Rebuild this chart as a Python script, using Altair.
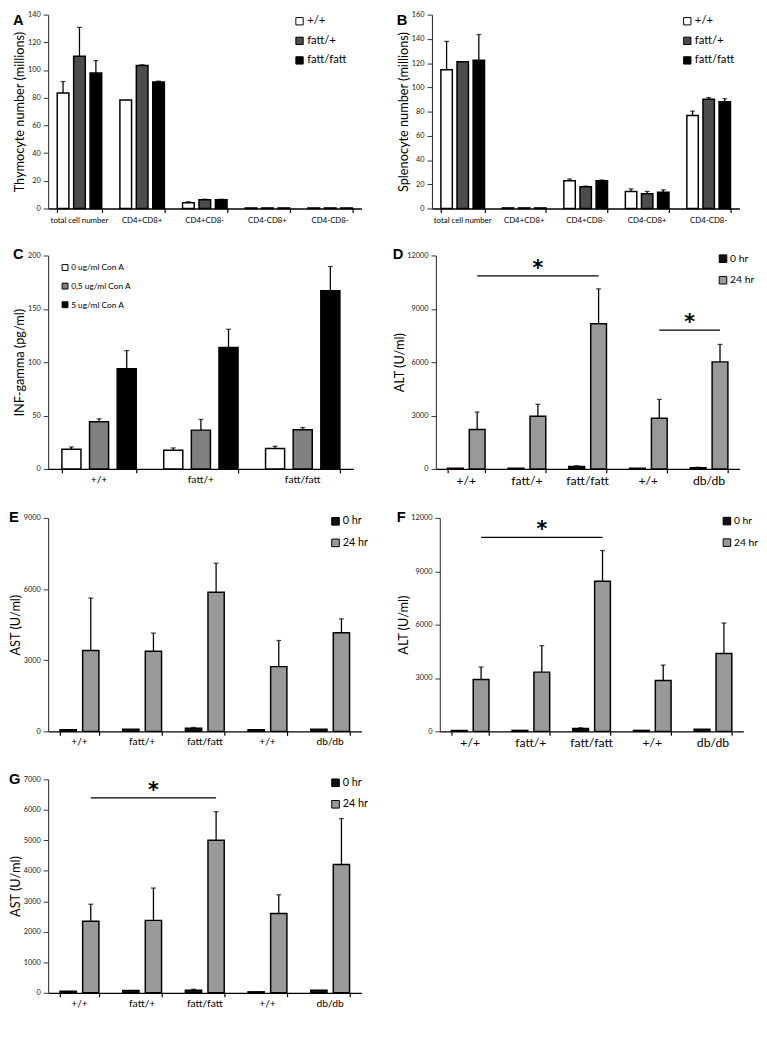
import altair as alt
import pandas as pd

FONT = "Lato"
LETTER_FONT = "Liberation Sans"

# ---------------- data ----------------
cell_types = ["total cell number", "CD4+CD8+", "CD4+CD8-", "CD4-CD8+", "CD4-CD8-"]
genotypes = ["+/+", "fatt/+", "fatt/fatt"]
genotype_colors = ["#ffffff", "#4d4d4d", "#000000"]

# A: thymocytes (millions)
thymo_wt = [83.4, 78.3, 4.2, 0.4, 0.4]
thymo_wt_err = [8.3, 0.0, 0.7, 0.0, 0.0]
thymo_het = [110.0, 103.3, 6.3, 0.4, 0.4]
thymo_het_err = [20.8, 0.5, 0.4, 0.0, 0.0]
thymo_hom = [97.8, 91.3, 6.3, 0.4, 0.4]
thymo_hom_err = [9.0, 0.7, 0.4, 0.0, 0.0]

# B: splenocytes (millions)
spleno_wt = [114.5, 0.5, 22.9, 14.1, 76.8]
spleno_wt_err = [23.4, 0.0, 1.5, 2.1, 3.6]
spleno_het = [121.2, 0.5, 18.0, 12.1, 90.1]
spleno_het_err = [0.0, 0.0, 0.5, 2.0, 1.5]
spleno_hom = [122.3, 0.5, 22.9, 13.4, 88.1]
spleno_hom_err = [21.3, 0.0, 0.6, 2.0, 2.6]

# C: INF-gamma (pg/ml)
c_groups = ["+/+", "fatt/+", "fatt/fatt"]
con_a = ["0 ug/ml Con A", "0,5 ug/ml Con A", "5 ug/ml Con A"]
con_a_colors = ["#ffffff", "#808080", "#000000"]
ifn_0 = [18.5, 17.6, 19.1]
ifn_0_err = [2.1, 2.1, 2.1]
ifn_05 = [44.2, 36.4, 36.7]
ifn_05_err = [2.8, 10.0, 2.1]
ifn_5 = [93.9, 113.9, 167.0]
ifn_5_err = [17.0, 17.0, 22.7]

# D-G: liver enzymes
mice = ["+/+", "fatt/+", "fatt/fatt", "+/+ ", "db/db"]
times = ["0 hr", "24 hr"]
time_colors = ["#111111", "#999999"]

alt_d_0 = [40, 40, 145, 40, 70]
alt_d_0_err = [0, 0, 35, 0, 30]
alt_d_24 = [2220, 2965, 8165, 2855, 6020]
alt_d_24_err = [980, 670, 1960, 1055, 980]
sig_d_from = ["+/+", "+/+ "]
sig_d_to = ["fatt/fatt", "db/db"]
sig_d_level = [10850, 7800]

ast_e_0 = [68, 95, 136, 68, 95]
ast_e_0_err = [0, 0, 28, 0, 0]
ast_e_24 = [3410, 3380, 5865, 2730, 4160]
ast_e_24_err = [2210, 765, 1225, 1100, 585]

alt_f_0 = [55, 55, 164, 55, 127]
alt_f_0_err = [0, 0, 36, 0, 0]
alt_f_24 = [2910, 3330, 8435, 2855, 4380]
alt_f_24_err = [710, 1490, 1730, 870, 1710]
sig_f_from = ["+/+"]
sig_f_to = ["fatt/fatt"]
sig_f_level = [10910]

ast_g_0 = [53, 74, 85, 32, 85]
ast_g_0_err = [0, 0, 32, 0, 0]
ast_g_24 = [2345, 2375, 5005, 2600, 4210]
ast_g_24_err = [560, 1060, 935, 615, 1505]
sig_g_from = ["+/+"]
sig_g_to = ["fatt/fatt"]
sig_g_level = [6395]


def long_df(cats, groups, values, errors):
    rows = []
    for g, vals, errs in zip(groups, values, errors):
        for c, v, e in zip(cats, vals, errs):
            rows.append({"cat": c, "grp": g, "val": v, "err": e})
    return pd.DataFrame(rows)


TITLE_BOX = 15


def panel(df, cats, groups, colors, ymax, ystep, ytitle, letter, width, height,
          pad_x, pad_o, y_extent, x_label_size, x_label_pad, leg, letter_dy,
          sig=None):
    x_scale = alt.Scale(domain=cats, paddingInner=pad_x, paddingOuter=pad_x / 2)
    x_axis = alt.Axis(title=None, labels=False, tickBand="extent",
                      tickSize=4, tickColor="black", tickWidth=1.2,
                      domainColor="black", domainWidth=1.3)
    y_scale = alt.Scale(domain=[0, ymax], nice=False, zero=True)
    y_axis = alt.Axis(title=ytitle, values=list(range(0, ymax + 1, ystep)),
                      format="d", grid=False, tickSize=5, tickColor="#333333",
                      domainColor="#333333", domainWidth=1.1,
                      labelFontSize=7.5, labelFont=FONT, labelColor="#222222",
                      labelPadding=3, titleFont=FONT, titleFontSize=13,
                      titleFontWeight="normal", titleColor="black",
                      titlePadding=2, minExtent=y_extent, maxExtent=y_extent)
    xo = alt.XOffset("grp:N", scale=alt.Scale(domain=groups, paddingInner=pad_o,
                                              paddingOuter=0))
    base = alt.Chart(df)
    bars = base.mark_bar(stroke="black", strokeWidth=1.5).encode(
        x=alt.X("cat:N", scale=x_scale, axis=x_axis),
        xOffset=xo,
        y=alt.Y("val:Q", scale=y_scale, axis=y_axis),
        fill=alt.Fill("grp:N", scale=alt.Scale(domain=groups, range=colors),
                      legend=alt.Legend(orient="none", legendX=leg["x"],
                                        legendY=leg["y"], title=None,
                                        symbolType="square",
                                        symbolSize=leg["sym"],
                                        symbolStrokeColor="black",
                                        symbolStrokeWidth=1,
                                        labelFontSize=leg["font"],
                                        labelFont=FONT, labelColor="black",
                                        rowPadding=leg["row"], labelOffset=2,
                                        padding=0)),
    )
    errs = base.transform_filter("datum.err > 0").transform_calculate(
        top="datum.val + datum.err")
    rule = errs.mark_rule(color="black", strokeWidth=1.3).encode(
        x=alt.X("cat:N", scale=x_scale, axis=x_axis),
        xOffset=xo,
        y=alt.Y("val:Q", scale=y_scale, axis=y_axis),
        y2="top:Q",
    )
    cap = errs.mark_tick(color="black", thickness=1.3, size=5).encode(
        x=alt.X("cat:N", scale=x_scale, axis=x_axis),
        xOffset=xo,
        y=alt.Y("top:Q", scale=y_scale, axis=y_axis),
    )
    # category labels under the x axis
    cat_df = pd.DataFrame({"cat": cats, "lbl": [c.strip() for c in cats]})
    cat_text = alt.Chart(cat_df).mark_text(
        font=FONT, fontSize=x_label_size, baseline="top", align="center",
        color="black").encode(
        x=alt.X("cat:N", scale=x_scale, axis=x_axis),
        y=alt.value(height + 4 + x_label_pad),
        text="lbl:N")
    lab = alt.Chart(pd.DataFrame({"t": [letter]})).mark_text(
        font=LETTER_FONT, fontWeight="bold", fontSize=15, align="left",
        baseline="alphabetic", color="black").encode(
        text="t:N", x=alt.value(-(y_extent + 2 + TITLE_BOX) + 1),
        y=alt.value(letter_dy))
    layers = [bars, rule, cap, cat_text]
    if sig is not None:
        s_from, s_to, s_level = sig
        n = len(groups)
        step_o = 1.0 / (n - pad_o)
        k = n - 1
        bp = (k * step_o + step_o * (1 - pad_o) / 2)
        half_step_px = width / len(cats) / 2.0
        sdf = pd.DataFrame({"x1": s_from, "x2": s_to, "lvl": s_level})
        line = alt.Chart(sdf).mark_rule(color="black", strokeWidth=1.3).encode(
            x=alt.X("x1:N", scale=x_scale, axis=x_axis, bandPosition=bp),
            x2=alt.X2("x2:N", bandPosition=bp),
            y=alt.Y("lvl:Q", scale=y_scale, axis=y_axis),
        )
        layers.append(line)
        for a, b, lv in zip(s_from, s_to, s_level):
            ia, ib = cats.index(a), cats.index(b)
            m = (ia + ib) // 2
            shift = half_step_px if (ia + ib) % 2 else 0.0
            one = pd.DataFrame({"xs": [cats[m]], "lvl": [lv], "star": ["*"]})
            star = alt.Chart(one).mark_text(fontSize=21, font="DejaVu Sans",
                                            fontWeight="bold", dy=-1,
                                            dx=shift,
                                            baseline="alphabetic",
                                            color="black").encode(
                x=alt.X("xs:N", scale=x_scale, axis=x_axis, bandPosition=bp),
                y=alt.Y("lvl:Q", scale=y_scale, axis=y_axis),
                text="star:N",
            )
            layers.append(star)
    layers.append(lab)
    return alt.layer(*layers).properties(width=width, height=height)


df_a = long_df(cell_types, genotypes, [thymo_wt, thymo_het, thymo_hom],
               [thymo_wt_err, thymo_het_err, thymo_hom_err])
df_b = long_df(cell_types, genotypes, [spleno_wt, spleno_het, spleno_hom],
               [spleno_wt_err, spleno_het_err, spleno_hom_err])
df_c = long_df(c_groups, con_a, [ifn_0, ifn_05, ifn_5],
               [ifn_0_err, ifn_05_err, ifn_5_err])
df_d = long_df(mice, times, [alt_d_0, alt_d_24], [alt_d_0_err, alt_d_24_err])
df_e = long_df(mice, times, [ast_e_0, ast_e_24], [ast_e_0_err, ast_e_24_err])
df_f = long_df(mice, times, [alt_f_0, alt_f_24], [alt_f_0_err, alt_f_24_err])
df_g = long_df(mice, times, [ast_g_0, ast_g_24], [ast_g_0_err, ast_g_24_err])

leg_a = {"x": 251, "y": 1, "sym": 56, "font": 11.5, "row": 7}
leg_b = {"x": 255, "y": 1, "sym": 56, "font": 11.5, "row": 7}
leg_c = {"x": 13, "y": 8, "sym": 36, "font": 8.5, "row": 8}
leg_d = {"x": 288, "y": -2, "sym": 60, "font": 10.5, "row": 9}
leg_e = {"x": 288, "y": -2, "sym": 60, "font": 11, "row": 9}

pa = panel(df_a, cell_types, genotypes, genotype_colors, 140, 20,
           "Thymocyte number (millions)", "A", 320, 198, 0.29, 0.29, 20, 8, 5,
           leg_a, 11)
pb = panel(df_b, cell_types, genotypes, genotype_colors, 160, 20,
           "Splenocyte number (millions)", "B", 314, 198, 0.29, 0.29, 20, 8, 5,
           leg_b, 11)
pc = panel(df_c, c_groups, con_a, con_a_colors, 200, 50,
           "INF-gamma (pg/ml)", "C", 312, 218, 0.27, 0.31, 20, 10.5, 2,
           leg_c, 4)
pd_ = panel(df_d, mice, times, time_colors, 12000, 3000, "ALT (U/ml)", "D",
            310, 218, 0.38, 0.28, 28, 12.5, 2, leg_d, 4,
            sig=(sig_d_from, sig_d_to, sig_d_level))
pe = panel(df_e, mice, times, time_colors, 9000, 3000, "AST (U/ml)", "E",
           320, 218, 0.38, 0.28, 24, 10.5, 2, leg_e, 4)
pf = panel(df_f, mice, times, time_colors, 12000, 3000, "ALT (U/ml)", "F",
           310, 218, 0.38, 0.28, 28, 12.5, 2, leg_d, 4,
           sig=(sig_f_from, sig_f_to, sig_f_level))
pg = panel(df_g, mice, times, time_colors, 7000, 1000, "AST (U/ml)", "G",
           320, 218, 0.38, 0.28, 24, 10.5, 2, leg_e, 5,
           sig=(sig_g_from, sig_g_to, sig_g_level))

res = dict(fill="independent", xOffset="independent", x="independent",
           y="independent")

row1 = alt.hconcat(pa, pb, spacing=36).resolve_scale(**res).resolve_legend(fill="independent")
row2 = alt.hconcat(pc, pd_, spacing=40).resolve_scale(**res).resolve_legend(fill="independent")
row3 = alt.hconcat(pe, pf, spacing=29).resolve_scale(**res).resolve_legend(fill="independent")
row4 = alt.hconcat(pg, spacing=10).resolve_scale(**res).resolve_legend(fill="independent")

chart = alt.vconcat(row1, row2, row3, row4, spacing=23).resolve_scale(
    **res).resolve_legend(fill="independent").properties(
    padding={"left": 1, "top": -8, "right": 0, "bottom": 0}).configure_view(
    stroke=None)

chart.save("out.html", embed_options={"renderer": "svg", "actions": False})
